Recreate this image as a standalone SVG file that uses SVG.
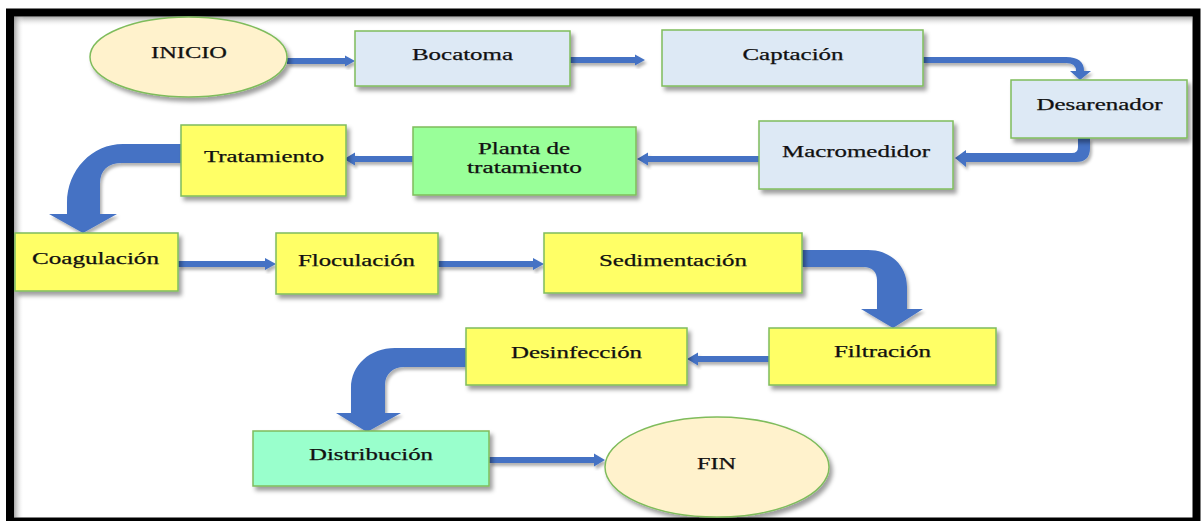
<svg xmlns="http://www.w3.org/2000/svg" width="1204" height="521" viewBox="0 0 1204 521">
  <defs>
    <filter id="shadow" x="-10%" y="-10%" width="130%" height="140%">
      <feDropShadow dx="3" dy="4" stdDeviation="2.2" flood-color="#000" flood-opacity="0.38"/>
    </filter>
    <filter id="ashadow" x="-10%" y="-10%" width="130%" height="140%">
      <feDropShadow dx="2" dy="3" stdDeviation="1.6" flood-color="#000" flood-opacity="0.3"/>
    </filter>
    <linearGradient id="innerTop" x1="0" y1="0" x2="0" y2="1">
      <stop offset="0" stop-color="#8a8a8a" stop-opacity="0.75"/>
      <stop offset="1" stop-color="#ffffff" stop-opacity="0"/>
    </linearGradient>
    <linearGradient id="innerLeft" x1="0" y1="0" x2="1" y2="0">
      <stop offset="0" stop-color="#8a8a8a" stop-opacity="0.75"/>
      <stop offset="1" stop-color="#ffffff" stop-opacity="0"/>
    </linearGradient>
  </defs>
  <style>
    .box { stroke: #7fbc5c; stroke-width: 1.5; filter: url(#shadow); }
    .blue { fill: #dde9f5; }
    .yellow { fill: #ffff66; }
    .green { fill: #99ff99; }
    .mint { fill: #99ffcc; }
    .oval { fill: #fff2cc; }
    .lbl { font-family: "Liberation Serif", "Times New Roman", serif; font-size: 16px; fill: #111; stroke: #111; stroke-width: 0.25; text-anchor: middle; }
    .arrow { fill: #4472c4; filter: url(#ashadow); }
  </style>

  <!-- page frame -->
  <rect x="0" y="0" width="1204" height="521" fill="#ffffff"/>
  <rect x="14" y="16.5" width="1178" height="10" fill="url(#innerTop)"/>
  <rect x="14" y="16.5" width="10" height="501" fill="url(#innerLeft)"/>
  <rect x="10" y="12.5" width="1186.5" height="509" fill="none" stroke="#000" stroke-width="8"/>

  <!-- connectors -->
  <g id="connectors">
    <!-- INICIO -> Bocatoma -->
    <polygon class="arrow" points="287,58 345,58 345,55.5 355,61 345,66.5 345,64 287,64"/>
    <!-- Bocatoma -> Captacion -->
    <polygon class="arrow" points="570,57 635,57 635,54.5 645,60 635,65.5 635,63 570,63"/>
    <!-- Captacion -> Desarenador -->
    <path class="arrow" d="M923,57 L1066,57 Q1084,57 1084,71 L1091,71 L1080,80 L1070,71 L1076,71 Q1076,63 1066,63 L923,63 Z"/>
    <!-- Desarenador -> Macromedidor -->
    <path class="arrow" d="M1078,138 L1090,138 L1090,148 Q1090,162 1076,162 L966,162 L966,167 L955,158 L966,150 L966,153 L1072,153 Q1078,153 1078,147 Z"/>
    <!-- Macromedidor -> Planta de tratamiento -->
    <polygon class="arrow" points="759,156 648,156 648,152.5 637,159 648,165.5 648,162 759,162"/>
    <!-- Planta de tratamiento -> Tratamiento -->
    <polygon class="arrow" points="413,156 355,156 355,152.5 344,159 355,165.5 355,162 413,162"/>
    <!-- Tratamiento -> Coagulacion (bent arrow) -->
    <path class="arrow" d="M181,144 L123,144 C92,144 67,170 67,203 L67,214 L49,214 L83,233 L117,214 L100,214 L100,184 C100,170 108,163 122,163 L181,163 Z"/>
    <!-- Coagulacion -> Floculacion -->
    <polygon class="arrow" points="178,261 265,261 265,258 276,264 265,270 265,267 178,267"/>
    <!-- Floculacion -> Sedimentacion -->
    <polygon class="arrow" points="438,261 533,261 533,258 544,264 533,270 533,267 438,267"/>
    <!-- Sedimentacion -> Filtracion (bent arrow) -->
    <path class="arrow" d="M802,250 L868,250 C890,250 907,265 907,287 L907,309 L923,309 L893,328 L861,309 L877,309 L877,280 C877,272 872,267 864,267 L802,267 Z"/>
    <!-- Filtracion -> Desinfeccion -->
    <polygon class="arrow" points="769,356 698,356 698,352.5 687,359 698,365.5 698,362 769,362"/>
    <!-- Desinfeccion -> Distribucion (bent arrow) -->
    <path class="arrow" d="M466,348 L395,348 C370,348 351,365 351,388 L351,413 L336,413 L367,432 L401,413 L385,413 L385,385 C385,374 393,367 404,367 L466,367 Z"/>
    <!-- Distribucion -> FIN -->
    <polygon class="arrow" points="489,457 594,457 594,453.5 605,460 594,466.5 594,463 489,463"/>
  </g>

  <!-- nodes -->
  <g id="inicio">
    <ellipse class="box oval" cx="188.5" cy="57" rx="98.5" ry="40"/>
    <text class="lbl" x="189" y="58" textLength="76" lengthAdjust="spacingAndGlyphs">INICIO</text>
  </g>
  <g id="bocatoma">
    <rect class="box blue" x="355" y="31" width="215" height="55"/>
    <text class="lbl" x="462.5" y="60" textLength="101" lengthAdjust="spacingAndGlyphs">Bocatoma</text>
  </g>
  <g id="captacion">
    <rect class="box blue" x="662" y="30" width="261" height="56"/>
    <text class="lbl" x="793" y="60" textLength="101" lengthAdjust="spacingAndGlyphs">Captación</text>
  </g>
  <g id="desarenador">
    <rect class="box blue" x="1011" y="80" width="176" height="58"/>
    <text class="lbl" x="1099.5" y="110" textLength="126" lengthAdjust="spacingAndGlyphs">Desarenador</text>
  </g>
  <g id="macromedidor">
    <rect class="box blue" x="759" y="121" width="194" height="68"/>
    <text class="lbl" x="856" y="157" textLength="148" lengthAdjust="spacingAndGlyphs">Macromedidor</text>
  </g>
  <g id="planta">
    <rect class="box green" x="413" y="127" width="223" height="68"/>
    <text class="lbl" x="524" y="154" textLength="92" lengthAdjust="spacingAndGlyphs">Planta de</text>
    <text class="lbl" x="524.5" y="173" textLength="115" lengthAdjust="spacingAndGlyphs">tratamiento</text>
  </g>
  <g id="tratamiento">
    <rect class="box yellow" x="181" y="125" width="165" height="71"/>
    <text class="lbl" x="264" y="162" textLength="120" lengthAdjust="spacingAndGlyphs">Tratamiento</text>
  </g>
  <g id="coagulacion">
    <rect class="box yellow" x="15" y="233" width="163" height="58"/>
    <text class="lbl" x="95.5" y="264" textLength="127" lengthAdjust="spacingAndGlyphs">Coagulación</text>
  </g>
  <g id="floculacion">
    <rect class="box yellow" x="276" y="233" width="162" height="61"/>
    <text class="lbl" x="356.5" y="266" textLength="117" lengthAdjust="spacingAndGlyphs">Floculación</text>
  </g>
  <g id="sedimentacion">
    <rect class="box yellow" x="544" y="233" width="258" height="60"/>
    <text class="lbl" x="673" y="266" textLength="148" lengthAdjust="spacingAndGlyphs">Sedimentación</text>
  </g>
  <g id="filtracion">
    <rect class="box yellow" x="769" y="328" width="227" height="57"/>
    <text class="lbl" x="882.5" y="357" textLength="97" lengthAdjust="spacingAndGlyphs">Filtración</text>
  </g>
  <g id="desinfeccion">
    <rect class="box yellow" x="466" y="328" width="221" height="57"/>
    <text class="lbl" x="576.5" y="358" textLength="131" lengthAdjust="spacingAndGlyphs">Desinfección</text>
  </g>
  <g id="distribucion">
    <rect class="box mint" x="253" y="431" width="236" height="55"/>
    <text class="lbl" x="371" y="460" textLength="124" lengthAdjust="spacingAndGlyphs">Distribución</text>
  </g>
  <g id="fin">
    <ellipse class="box oval" cx="717" cy="467" rx="112" ry="50"/>
    <text class="lbl" x="716.5" y="469" textLength="39" lengthAdjust="spacingAndGlyphs">FIN</text>
  </g>
</svg>
